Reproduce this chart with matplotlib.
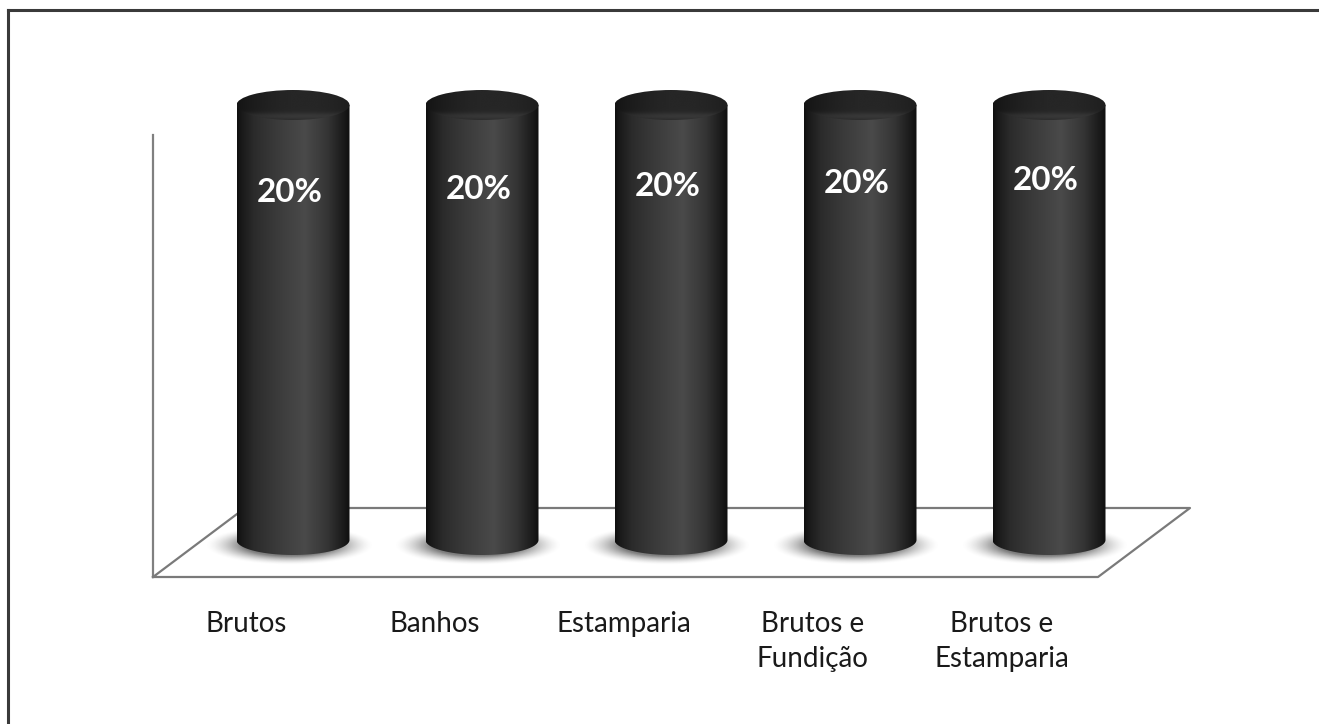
import numpy as np
import matplotlib
matplotlib.use("Agg")
from matplotlib import pyplot as plt
from matplotlib.patches import Ellipse, Polygon
from matplotlib.lines import Line2D

# dados do gráfico
categorias = ["Brutos", "Banhos", "Estamparia", "Brutos e\nFundição", "Brutos e\nEstamparia"]
valores = [20, 20, 20, 20, 20]
rotulos = ["20%", "20%", "20%", "20%", "20%"]

fig = plt.figure(figsize=(13.19, 7.24), dpi=100)
ax = fig.add_axes([0, 0, 1, 1])

# escala: 1 categoria = 189 px, 1 ponto percentual = 21.75 px
X0, SX = 293, 189
Y0, SY = 540, 21.75


def px(x, y):
    # converte pixel da imagem -> coordenadas de dados
    return (x - X0) / SX, (Y0 - y) / SY


xmin, ymax = px(0, 0)
xmax, ymin = px(1319, 724)

rx = 56.5 / SX
ry = 15 / SY

# borda externa (só topo e esquerda aparecem)
bx0, by0 = px(8, 10)
bx1, by1 = px(1330, 740)
ax.add_line(Line2D([bx1, bx0], [by0, by0], color="#3a3a3a", lw=2.2, zorder=1))
ax.add_line(Line2D([bx0, bx0], [by0, by1], color="#3a3a3a", lw=2.2, zorder=1))

# parede esquerda
wx, wy0 = px(153, 135)
_, wy1 = px(153, 577)
ax.add_line(Line2D([wx, wx], [wy0, wy1], color="#808080", lw=1.6, zorder=1))

# piso
fl = [px(153, 577), px(1098, 577), px(1190, 508), px(245, 508), px(153, 577)]
ax.add_line(Line2D([p[0] for p in fl], [p[1] for p in fl], color="#7a7a7a", lw=1.6, zorder=1))

# mapa da sombra (elipse com borda difusa)
gy, gx = np.mgrid[-1:1:80j, -1:1:200j]
r = np.sqrt(gx ** 2 + gy ** 2)
a = np.clip((1 - r) / 0.45, 0, 1)
sombra = np.zeros((80, 200, 4))
sombra[..., :3] = 0.4
sombra[..., 3] = 0.85 * a ** 1.6


def cilindro(x, v, z):
    # sombra
    sw, shh = 84 / SX, 20 / SY
    ax.imshow(sombra, extent=[x - 0.02 - sw, x - 0.02 + sw, -0.25 - shh, -0.25 + shh],
              aspect="auto", interpolation="bilinear", zorder=z)
    # corpo
    th = np.linspace(np.pi, 2 * np.pi, 80)
    verts = [(x - rx, v)] + list(zip(x + rx * np.cos(th), ry * np.sin(th))) + [(x + rx, v)]
    corpo = Polygon(verts, closed=True, facecolor="none", edgecolor="none", zorder=z + 0.1)
    ax.add_patch(corpo)
    u = np.linspace(0, 1, 256)
    perfil = np.interp(u, [0, 0.04, 0.15, 0.35, 0.6, 0.8, 0.95, 1],
                       [0.06, 0.1, 0.17, 0.23, 0.29, 0.21, 0.1, 0.06])
    im = ax.imshow(perfil[None, :], cmap="gray", vmin=0, vmax=1, extent=[x - rx, x + rx, -ry, v],
                   aspect="auto", interpolation="bicubic", zorder=z + 0.2)
    im.set_clip_path(corpo)
    # tampa
    tampa = Ellipse((x, v), 2 * rx, 2 * ry, facecolor="none", edgecolor="none", zorder=z + 0.3)
    ax.add_patch(tampa)
    t = np.linspace(0, 1, 64)[:, None]
    s = np.linspace(-1, 1, 128)[None, :]
    topo = 0.15 + 0.07 * np.exp(-((t - 0.12) / 0.12) ** 2) - 0.05 * s ** 2 + 0.02 * s
    im2 = ax.imshow(topo, cmap="gray", vmin=0, vmax=1, extent=[x - rx, x + rx, v - ry, v + ry],
                    origin="lower", aspect="auto", interpolation="bicubic", zorder=z + 0.4)
    im2.set_clip_path(tampa)


for i, v in enumerate(valores):
    cilindro(i, v, 3 + i)
    ax.text(i - 0.02, v * 0.8 + 0.13 * i, rotulos[i], color="white", fontsize=24, fontweight="bold",
            family="Lato", ha="center", va="center", zorder=20)

_, ylab = px(0, 611)
for i, c in enumerate(categorias):
    ax.text(i - 0.25, ylab, c, color="#1a1a1a", fontsize=20, family="Lato",
            ha="center", va="top", linespacing=1.45, zorder=20)

ax.set_xlim(xmin, xmax)
ax.set_ylim(ymin, ymax)
ax.axis("off")
fig.savefig("out.png", dpi=100, facecolor="white")
